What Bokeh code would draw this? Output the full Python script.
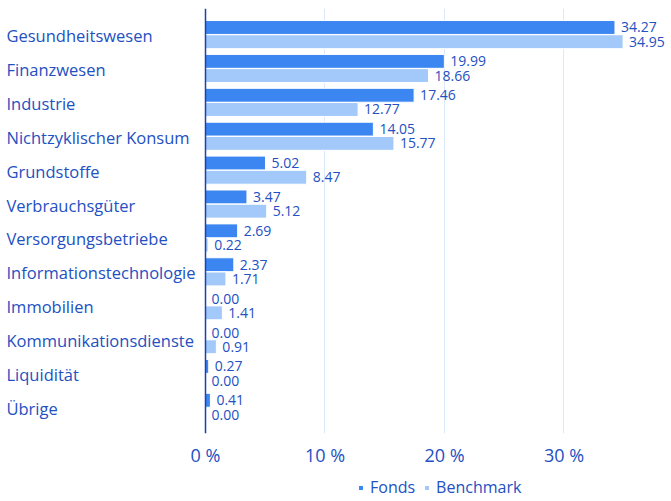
from bokeh.plotting import figure
from bokeh.layouts import column
from bokeh.models import (FactorRange, Range1d, Span, ColumnDataSource,
                          Legend, LegendItem, FixedTicker)
from bokeh.transform import dodge
from bokeh.core.properties import value
from bokeh.embed import file_html
from bokeh.resources import INLINE

categories = ["Gesundheitswesen", "Finanzwesen", "Industrie", "Nichtzyklischer Konsum",
              "Grundstoffe", "Verbrauchsgüter", "Versorgungsbetriebe",
              "Informationstechnologie", "Immobilien", "Kommunikationsdienste",
              "Liquidität", "Übrige"]
fonds = [34.27, 19.99, 17.46, 14.05, 5.02, 3.47, 2.69, 2.37, 0.00, 0.00, 0.27, 0.41]
benchmark = [34.95, 18.66, 12.77, 15.77, 8.47, 5.12, 0.22, 1.71, 1.41, 0.91, 0.00, 0.00]
series_names = ["Fonds", "Benchmark"]
x_ticks = [0, 10, 20, 30]
x_tick_labels = ["0 %", "10 %", "20 %", "30 %"]

TEXT = "#2350c2"
FONT = "Open Sans"
C_FONDS = "#3b86f1"
C_BENCH = "#a2c9fa"

# layout (pixels)
W = 671
LABEL_AREA = 205          # room for category labels left of the zero line
TOP = 8
FRAME_H = 425
BOTTOM = 40
H = TOP + FRAME_H + BOTTOM
X_MAX = 39.0
px_per_unit = (W - LABEL_AREA) / X_MAX
X_MIN = -LABEL_AREA / px_per_unit

y_range = FactorRange(factors=list(reversed(categories)), range_padding=0.045)

src = ColumnDataSource(dict(
    cat=categories, fonds=fonds, bench=benchmark,
    fonds_txt=[f"{v:.2f}" for v in fonds],
    bench_txt=[f"{v:.2f}" for v in benchmark],
    label_x=[X_MIN] * len(categories),
))

p = figure(y_range=y_range, x_range=Range1d(X_MIN, X_MAX), width=W, height=H,
           output_backend="svg", toolbar_location=None,
           min_border_left=0, min_border_right=0, min_border_top=TOP, min_border_bottom=BOTTOM)

p.hbar(y=dodge('cat', 0.21, range=y_range), right='fonds', left=0, height=0.41,
       source=src, fill_color=C_FONDS, line_color="white", line_width=1)
p.hbar(y=dodge('cat', -0.21, range=y_range), right='bench', left=0, height=0.41,
       source=src, fill_color=C_BENCH, line_color="white", line_width=1)

p.text(x='fonds', y=dodge('cat', 0.21, range=y_range), text='fonds_txt', source=src,
       x_offset=6, text_baseline='middle', text_align='left', text_font=value(FONT),
       text_font_size="14px", text_color=TEXT)
p.text(x='bench', y=dodge('cat', -0.21, range=y_range), text='bench_txt', source=src,
       x_offset=6, text_baseline='middle', text_align='left', text_font=value(FONT),
       text_font_size="14px", text_color=TEXT)

# category labels, left-aligned at the left edge
p.text(x='label_x', y='cat', text='cat', source=src, x_offset=6, y_offset=1,
       text_align='left', text_baseline='middle', text_font=value(FONT),
       text_font_size="16.5px", text_color=TEXT)

p.add_layout(Span(location=0, dimension='height', line_color="#1a40b4", line_width=1.5))

p.yaxis.visible = False
p.ygrid.visible = False
p.xgrid.ticker = FixedTicker(ticks=[t for t in x_ticks if t > 0])
p.xgrid.grid_line_color = "#dce8fb"
p.xaxis.ticker = FixedTicker(ticks=x_ticks)
p.xaxis.major_label_overrides = {t: l for t, l in zip(x_ticks, x_tick_labels)}
p.xaxis.axis_line_color = None
p.xaxis.major_tick_line_color = None
p.xaxis.minor_tick_line_color = None
p.xaxis.major_label_text_font = FONT
p.xaxis.major_label_text_font_size = "18px"
p.xaxis.major_label_text_color = TEXT
p.xaxis.major_label_standoff = 3
p.outline_line_color = None

# legend strip below
lf = figure(x_range=Range1d(0, 1), y_range=Range1d(0, 1), width=W, height=27,
            output_backend="svg", toolbar_location=None,
            min_border_left=0, min_border_right=0, min_border_top=0, min_border_bottom=0)
lf.axis.visible = False
lf.grid.visible = False
lf.outline_line_color = None
q1 = lf.quad(left=[0], right=[0], top=[0], bottom=[0], fill_color=C_FONDS, line_color=None)
q2 = lf.quad(left=[0], right=[0], top=[0], bottom=[0], fill_color=C_BENCH, line_color=None)
legend = Legend(items=[LegendItem(label=series_names[0], renderers=[q1]),
                       LegendItem(label=series_names[1], renderers=[q2])],
                orientation="horizontal", location=(358, 2),
                border_line_alpha=0, background_fill_alpha=0,
                label_text_font=FONT, label_text_font_size="16px", label_text_color=TEXT,
                glyph_width=5, glyph_height=5, label_standoff=7, spacing=9,
                padding=0, margin=0)
lf.add_layout(legend)

layout = column(p, lf)
open("out.html", "w").write(file_html(layout, INLINE))
